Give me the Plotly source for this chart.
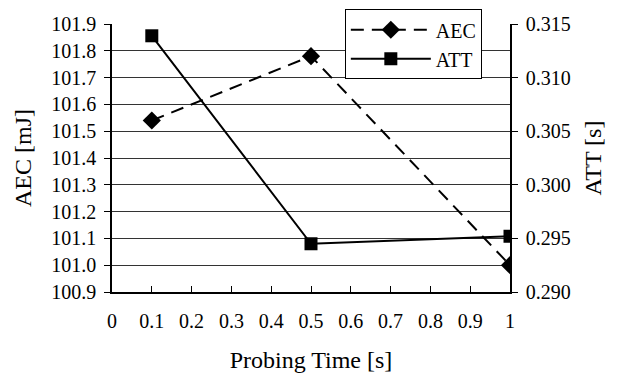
import plotly.graph_objects as go

probing_time = [0.1, 0.5, 1.0]
aec_values = [101.54, 101.78, 101.00]
att_values = [0.3139, 0.2945, 0.2952]

font_family = "Liberation Serif, DejaVu Serif"

fig = go.Figure()
fig.add_trace(go.Scatter(
    x=probing_time, y=aec_values, name="AEC", yaxis="y",
    mode="lines+markers",
    line=dict(color="black", width=2, dash="13px,8px"),
    marker=dict(symbol="diamond", size=14, color="black"),
))
fig.add_trace(go.Scatter(
    x=probing_time, y=att_values, name="ATT", yaxis="y2",
    mode="lines+markers",
    line=dict(color="black", width=2),
    marker=dict(symbol="square", size=13, color="black"),
))

fig.update_layout(
    width=611, height=365,
    margin=dict(l=104, r=109, t=16, b=81, autoexpand=False),
    paper_bgcolor="white", plot_bgcolor="white",
    font_family=font_family, font_size=20, font_color="black",
    showlegend=True,
    legend=dict(
        x=0.585, y=1.055, xanchor="left", yanchor="top",
        bgcolor="white", bordercolor="black", borderwidth=1,
        itemwidth=80, tracegroupgap=0,
    ),
    xaxis=dict(
        range=[0, 1], automargin=False,
        showgrid=False, zeroline=False,
        showline=True, linecolor="black", linewidth=1.5,
        ticks="inside", ticklen=6, tickcolor="black",
        ticklabelstandoff=10,
        tickvals=[0, 0.1, 0.2, 0.3, 0.4, 0.5, 0.6, 0.7, 0.8, 0.9, 1],
        ticktext=["0", "0.1", "0.2", "0.3", "0.4", "0.5", "0.6", "0.7", "0.8", "0.9", "1"],
        title=dict(text="Probing Time [s]", standoff=20),
    ),
    yaxis=dict(
        range=[100.9, 101.9], dtick=0.1, tick0=100.9, tickformat=".1f",
        automargin=False,
        showgrid=True, gridcolor="#333333", gridwidth=1,
        zeroline=False, showline=True, linecolor="black", linewidth=1.5,
        ticks="outside", ticklen=6, tickcolor="black",
        ticklabelstandoff=4,
        title=dict(text="AEC [mJ]", standoff=13),
    ),
    yaxis2=dict(
        range=[0.290, 0.315], dtick=0.005, tick0=0.290, tickformat=".3f",
        automargin=False,
        overlaying="y", side="right", showgrid=False, zeroline=False,
        showline=True, linecolor="black", linewidth=1.5,
        ticks="outside", ticklen=6, tickcolor="black",
        ticklabelstandoff=4,
        title=dict(text="ATT [s]", standoff=14),
    ),
)

fig.write_html("out.html")
